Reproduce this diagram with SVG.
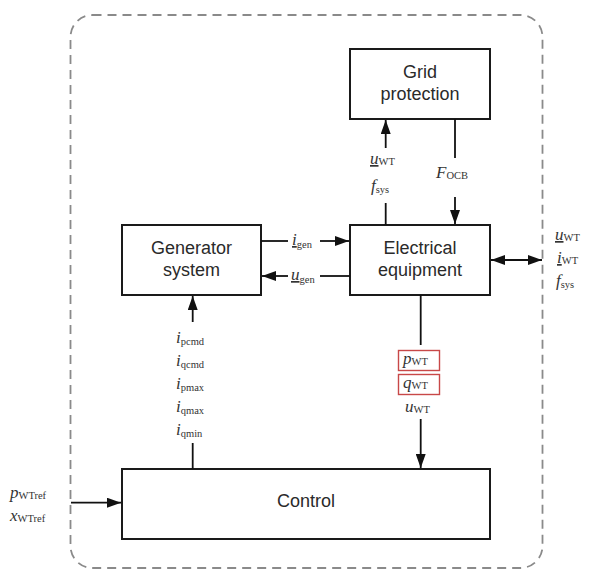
<svg xmlns="http://www.w3.org/2000/svg" width="589" height="577" viewBox="0 0 589 577">
<defs>
<marker id="ah" viewBox="0 0 14 10" refX="14" refY="5" markerWidth="14" markerHeight="10" markerUnits="userSpaceOnUse" orient="auto-start-reverse">
<path d="M0,0 L14,5 L0,10 Z" fill="#111"/>
</marker>
</defs>
<style>
.box{fill:#fff;stroke:#1a1a1a;stroke-width:2}
.lbl{font-family:"Liberation Sans",Arial,sans-serif;font-size:18px;fill:#2a2a2a;text-anchor:middle}
.m{font-family:"Liberation Serif","Times New Roman",serif;font-size:17px;fill:#333}
.v{font-style:italic}
.s{font-size:10.5px}
.u{text-decoration:underline}
.c{fill:none;stroke:#111;stroke-width:1.8}
.red{fill:none;stroke:#c84848;stroke-width:1.4}
</style>
<rect x="70.5" y="15" width="472" height="553" rx="22" fill="none" stroke="#8a8a8a" stroke-width="1.8" stroke-dasharray="9 6"/>

<g id="grid-protection">
<rect class="box" x="350" y="49" width="140" height="70"/>
<text class="lbl" x="420" y="78">Grid</text>
<text class="lbl" x="420" y="100">protection</text>
</g>
<g id="generator-system">
<rect class="box" x="122" y="225" width="139" height="70"/>
<text class="lbl" x="191.5" y="254">Generator</text>
<text class="lbl" x="191.5" y="276">system</text>
</g>
<g id="electrical-equipment">
<rect class="box" x="350" y="225" width="140" height="70"/>
<text class="lbl" x="420" y="254">Electrical</text>
<text class="lbl" x="420" y="276">equipment</text>
</g>
<g id="control">
<rect class="box" x="122" y="469" width="368" height="70"/>
<text class="lbl" x="306" y="507">Control</text>
</g>

<g id="connectors">
<path class="c" d="M385.7,225 V203"/>
<path class="c" d="M385.7,148 V120" marker-end="url(#ah)"/>
<path class="c" d="M455,119 V158"/>
<path class="c" d="M455,197 V224" marker-end="url(#ah)"/>
<path class="c" d="M261,241 H288"/>
<path class="c" d="M320,241 H349" marker-end="url(#ah)"/>
<path class="c" d="M350,276 H320"/>
<path class="c" d="M288,276 H262" marker-end="url(#ah)"/>
<path class="c" d="M491,260 H542" marker-start="url(#ah)" marker-end="url(#ah)"/>
<path class="c" d="M192.7,322 V296" marker-end="url(#ah)"/>
<path class="c" d="M192.7,443 V469"/>
<path class="c" d="M420.7,295 V345"/>
<path class="c" d="M420.7,419 V468" marker-end="url(#ah)"/>
<path class="c" d="M71,502.7 H121" marker-end="url(#ah)"/>
</g>

<g id="labels">
<text class="m" x="370" y="164"><tspan class="v u">u</tspan><tspan class="s" dy="1">WT</tspan></text>
<text class="m" x="371" y="191"><tspan class="v">f</tspan><tspan class="s" dy="2">sys</tspan></text>
<text class="m" x="436" y="178"><tspan class="v">F</tspan><tspan class="s" dy="1">OCB</tspan></text>
<text class="m" x="292" y="245"><tspan class="v u">i</tspan><tspan class="s" dy="3">gen</tspan></text>
<text class="m" x="291" y="280"><tspan class="v u">u</tspan><tspan class="s" dy="3">gen</tspan></text>
<text class="m" x="555" y="240"><tspan class="v u">u</tspan><tspan class="s" dy="1">WT</tspan></text>
<text class="m" x="557" y="263"><tspan class="v u">i</tspan><tspan class="s" dy="1">WT</tspan></text>
<text class="m" x="556" y="286"><tspan class="v">f</tspan><tspan class="s" dy="2">sys</tspan></text>
<text class="m" x="176" y="343"><tspan class="v">i</tspan><tspan class="s" dy="2">pcmd</tspan></text>
<text class="m" x="176" y="366"><tspan class="v">i</tspan><tspan class="s" dy="2">qcmd</tspan></text>
<text class="m" x="176" y="389"><tspan class="v">i</tspan><tspan class="s" dy="2">pmax</tspan></text>
<text class="m" x="176" y="412"><tspan class="v">i</tspan><tspan class="s" dy="2">qmax</tspan></text>
<text class="m" x="176" y="435"><tspan class="v">i</tspan><tspan class="s" dy="2">qmin</tspan></text>
<rect class="red" x="398.5" y="350.5" width="41" height="20"/>
<text class="m" x="403" y="364"><tspan class="v">p</tspan><tspan class="s" dy="1">WT</tspan></text>
<rect class="red" x="398.5" y="374.5" width="41" height="20"/>
<text class="m" x="403" y="388"><tspan class="v">q</tspan><tspan class="s" dy="1">WT</tspan></text>
<text class="m" x="405" y="412"><tspan class="v">u</tspan><tspan class="s" dy="1">WT</tspan></text>
<text class="m" x="10" y="498"><tspan class="v">p</tspan><tspan class="s" dy="1">WTref</tspan></text>
<text class="m" x="10" y="521"><tspan class="v">x</tspan><tspan class="s" dy="1">WTref</tspan></text>
</g>
</svg>
